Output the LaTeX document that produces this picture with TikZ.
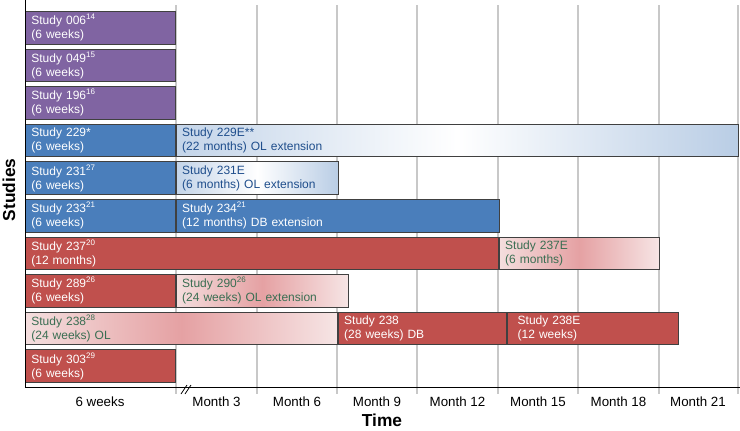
\documentclass[tikz,border=0pt]{standalone}
\usepackage{fontspec}
\setmainfont{Liberation Sans}
\usepackage{xcolor}
\usepackage{tikz}

\definecolor{studypurple}{HTML}{8064A2}
\definecolor{studyblue}{HTML}{4A7EBB}
\definecolor{studyred}{HTML}{C0504D}
\definecolor{paleblue}{HTML}{B9CDE5}
\definecolor{palepink}{HTML}{F4DEDE}
\definecolor{midpink}{HTML}{E5A1A3}
\definecolor{extblue}{HTML}{1F4E8C}
\definecolor{extgreen}{HTML}{3A6E52}
\definecolor{gridgray}{HTML}{C8C8C8}

\begin{document}
\begin{tikzpicture}[x=0.75pt,y=-0.75pt,
  bar/.style={draw=black!75,line width=0.6pt,anchor=north west,inner xsep=4.5pt,inner ysep=0pt,
    minimum height=24.4pt,align=left,text width=#1,font=\fontsize{9}{10.5}\selectfont},
  solidbar/.style={bar=#1,text=white},
  blueext/.style={bar=#1,left color=paleblue!85,right color=paleblue,middle color=white,text=extblue},
  pinkext/.style={bar=#1,left color=palepink,right color=palepink!80,middle color=midpink,text=extgreen},
  ticklabel/.style={font=\fontsize{10}{12}\selectfont},
  axistitle/.style={font=\bfseries\fontsize{13}{15}\selectfont}]
  \useasboundingbox (0,0) rectangle (740,430);

  % grid
  \foreach \gx in {176,257,337,417,498,578,659,738}
    \draw[gridgray,line width=0.9pt] (\gx,5) -- (\gx,394);

  % 6 week studies and their extensions
  \node[solidbar=103.5pt,fill=studypurple] (s006) at (25,11) {Study 006\textsuperscript{14}\\(6 weeks)};
  \node[solidbar=103.5pt,fill=studypurple] (s049) at (25,48.6) {Study 049\textsuperscript{15}\\(6 weeks)};
  \node[solidbar=103.5pt,fill=studypurple] (s196) at (25,86.2) {Study 196\textsuperscript{16}\\(6 weeks)};
  \node[solidbar=103.5pt,fill=studyblue] (s229) at (25,123.8) {Study 229*\\(6 weeks)};
  \node[blueext=412.5pt] (s229e) at (s229.north east) {Study 229E**\\(22 months) OL extension};
  \node[solidbar=103.5pt,fill=studyblue] (s231) at (25,161.4) {Study 231\textsuperscript{27}\\(6 weeks)};
  \node[blueext=112.5pt] (s231e) at (s231.north east) {Study 231E\\(6 months) OL extension};
  \node[solidbar=103.5pt,fill=studyblue] (s233) at (25,199) {Study 233\textsuperscript{21}\\(6 weeks)};
  \node[solidbar=233.25pt,fill=studyblue] (s234) at (s233.north east) {Study 234\textsuperscript{21}\\(12 months) DB extension};
  \node[solidbar=345.75pt,fill=studyred] (s237) at (25,236.6) {Study 237\textsuperscript{20}\\(12 months)};
  \node[pinkext=111pt] (s237e) at (s237.north east) {Study 237E\\(6 months)};
  \node[solidbar=103.5pt,fill=studyred] (s289) at (25,274.2) {Study 289\textsuperscript{26}\\(6 weeks)};
  \node[pinkext=120pt] (s290) at (s289.north east) {Study 290\textsuperscript{26}\\(24 weeks) OL extension};
  \node[pinkext=225pt] (s238) at (25,311.8) {Study 238\textsuperscript{28}\\(24 weeks) OL};
  \node[solidbar=117pt,fill=studyred] (s238db) at (s238.north east) {Study 238\\(28 weeks) DB};
  \node[solidbar=119.25pt,fill=studyred] (s238e) at (s238db.north east) {\hspace*{3.5pt}Study 238E\\\hspace*{3.5pt}(12 weeks)};
  \node[solidbar=103.5pt,fill=studyred] (s303) at (25,349.4) {Study 303\textsuperscript{29}\\(6 weeks)};

  % axes
  \draw[black,line width=0.75pt] (25,0) -- (25,387) -- (740,387);
  \draw[black,line width=0.6pt] (181,394) -- (187,385) (185,394) -- (191,385);

  % tick labels
  \node[ticklabel] (t6w) at (100,402) {6 weeks};
  \node[ticklabel] (t3) at (216.5,402) {Month 3};
  \node[ticklabel] (t6) at (297,402) {Month 6};
  \node[ticklabel] (t9) at (377,402) {Month 9};
  \node[ticklabel] (t12) at (457.5,402) {Month 12};
  \node[ticklabel] (t15) at (538,402) {Month 15};
  \node[ticklabel] (t18) at (618.5,402) {Month 18};
  \node[ticklabel] (t21) at (698,402) {Month 21};
  \node[axistitle] (timetitle) at (382,420) {Time};
  \node[axistitle,rotate=90] (studiestitle) at (9,190) {Studies};
\end{tikzpicture}
\end{document}
